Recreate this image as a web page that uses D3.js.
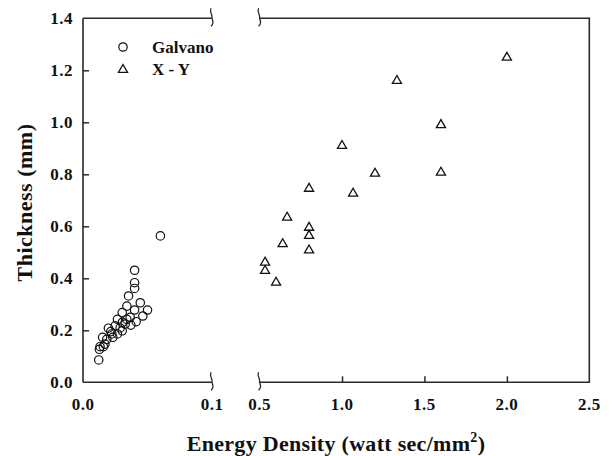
<!DOCTYPE html>
<html><head><meta charset="utf-8">
<script src="https://cdn.jsdelivr.net/npm/d3@7"></script>
<style>body{margin:0;background:#fff}svg{display:block}
svg text{font-family:"Liberation Serif","Times New Roman","DejaVu Serif",serif;font-weight:bold}</style>
</head><body>
<script>
// ---- data ----
const galvanoX = [0.060,0.040,0.040,0.040,0.0353,0.0444,0.034,0.050,0.040,0.0304,0.0464,0.0267,0.0366,0.034,0.0412,0.0306,0.0371,0.0197,0.0249,0.0288,0.0304,0.0267,0.0223,0.0231,0.0152,0.0184,0.017,0.0132,0.0127,0.0158,0.0122,0.0215,0.0327];
const galvanoY = [0.563,0.431,0.383,0.361,0.332,0.306,0.293,0.278,0.278,0.268,0.255,0.242,0.250,0.242,0.233,0.231,0.220,0.208,0.217,0.209,0.198,0.186,0.186,0.173,0.173,0.165,0.147,0.137,0.127,0.137,0.086,0.195,0.224];
const xyX = [1.2,0.8,1.067,0.667,0.8,0.8,0.64,0.8,0.533,0.533,0.6,2.0,1.333,1.6,1.6,1.0];
const xyY = [0.806,0.748,0.729,0.637,0.598,0.567,0.535,0.511,0.464,0.432,0.387,1.252,1.163,0.993,0.810,0.913];
const yTicks = [0,0.2,0.4,0.6,0.8,1.0,1.2,1.4];
const xTicksLeft = [0.0,0.1];
const xTicksRight = [0.5,1.0,1.5,2.0,2.5];
const seriesNames = ["Galvano","X - Y"];

(function(){
const W=612,H=456;
const svg=d3.select("body").append("svg").attr("width",W).attr("height",H);
const pTop=18.3,pBottom=382.3,pLeft=83,breakL=212,breakR=259.6,pRight=589.3;
const y=d3.scaleLinear().domain([0,1.4]).range([pBottom,pTop]);
const xL=d3.scaleLinear().domain([0,0.1]).range([pLeft,breakL]);
const xR=d3.scaleLinear().domain([0.5,2.5]).range([breakR,pRight]);
const xp=v=>v<=0.1?xL(v):xR(v);
const axisCol="#2a2a2a";

const g=svg.append("g");
const line=(x1,y1,x2,y2)=>g.append("line").attr("x1",x1).attr("y1",y1).attr("x2",x2).attr("y2",y2)
  .attr("stroke",axisCol).attr("stroke-width",1.6);
line(pLeft,pTop,pLeft,pBottom);
line(pLeft,pBottom,breakL,pBottom);
line(breakR,pBottom,pRight,pBottom);
line(pLeft,pTop,breakL,pTop);
line(breakR,pTop,pRight,pTop);
line(pRight,pTop-0.8,pRight,pBottom+0.8);

function brk(x,yy){
  g.append("path").attr("d",`M${x-1},${yy-10} C${x-3},${yy-6} ${x+1},${yy-4} ${x},${yy} C${x+1},${yy+3} ${x+2},${yy+5} ${x-1},${yy+8}`)
   .attr("fill","none").attr("stroke",axisCol).attr("stroke-width",1.3);
}
[breakL,breakR].forEach(x=>{brk(x,pTop);brk(x,pBottom);});

const ya=svg.append("g").attr("transform",`translate(${pLeft},0)`)
  .call(d3.axisRight(y).tickValues(yTicks.filter(d=>d>0&&d<1.4)).tickSize(6).tickFormat(""));
ya.select(".domain").remove();
ya.selectAll("line").attr("stroke",axisCol).attr("stroke-width",1.5);
svg.append("g").selectAll("text").data(yTicks).join("text")
  .attr("x",73).attr("y",d=>y(d)).attr("dy","0.36em").attr("text-anchor","end")
  .attr("font-size",17).attr("letter-spacing",0.5)
  .attr("fill","#111").text(d=>d.toFixed(1));

const xaR=svg.append("g").attr("transform",`translate(0,${pBottom})`)
  .call(d3.axisTop(xR).tickValues(xTicksRight.filter(d=>d>0.5&&d<2.5)).tickSize(6).tickFormat(""));
xaR.select(".domain").remove();
xaR.selectAll("line").attr("stroke",axisCol).attr("stroke-width",1.5);
const xlab=(data,sc)=>svg.append("g").selectAll("text").data(data).join("text")
  .attr("x",d=>sc(d)).attr("y",410).attr("text-anchor","middle")
  .attr("font-size",17).attr("letter-spacing",0.5)
  .attr("fill","#111").text(d=>d.toFixed(1));
xlab(xTicksLeft,xL); xlab(xTicksRight,xR);

svg.append("text").attr("transform","translate(32,202.5) rotate(-90)").attr("text-anchor","middle")
  .attr("font-size",22).attr("letter-spacing",0.5)
  .attr("fill","#111").text("Thickness (mm)");
const xt=svg.append("text").attr("x",336).attr("y",450.5).attr("text-anchor","middle")
  .attr("font-size",22).attr("letter-spacing",0.3)
  .attr("fill","#111");
xt.append("tspan").text("Energy Density (watt sec/mm");
xt.append("tspan").attr("font-size",14).attr("dy",-9).text("2");
xt.append("tspan").attr("dy",9).text(")");

const tri=d3.symbol().type(d3.symbolTriangle).size(36);
svg.append("g").selectAll("circle").data(galvanoX.map((v,i)=>[v,galvanoY[i]])).join("circle")
  .attr("cx",d=>xp(d[0])).attr("cy",d=>y(d[1])).attr("r",4.2)
  .attr("fill","none").attr("stroke","#111").attr("stroke-width",1.2);
svg.append("g").selectAll("path").data(xyX.map((v,i)=>[v,xyY[i]])).join("path")
  .attr("d",tri).attr("transform",d=>`translate(${xp(d[0])},${y(d[1])+0.8})`)
  .attr("fill","none").attr("stroke","#111").attr("stroke-width",1.3);

svg.append("circle").attr("cx",123).attr("cy",47).attr("r",4.2).attr("fill","none").attr("stroke","#111").attr("stroke-width",1.2);
svg.append("path").attr("d",tri).attr("transform","translate(123,69.8)").attr("fill","none").attr("stroke","#111").attr("stroke-width",1.3);
svg.append("g").selectAll("text").data(seriesNames).join("text")
  .attr("x",152).attr("y",(d,i)=>53+i*22)
  .attr("font-size",17).attr("fill","#111").text(d=>d);
})();
</script>
</body></html>
